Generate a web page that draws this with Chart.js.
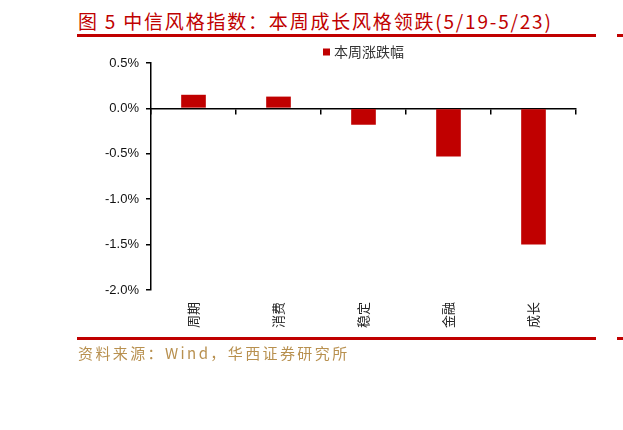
<!DOCTYPE html>
<html>
<head>
<meta charset="utf-8">
<script src="https://cdn.jsdelivr.net/npm/chart.js@4"></script>
<style>
  html, body { margin: 0; padding: 0; background: #fff; }
  body { width: 623px; height: 430px; position: relative; overflow: hidden; }
  .title { position: absolute; left: 78px; top: 7px; font: 19px "Noto Sans CJK SC"; color: #c00000; letter-spacing: 1.8px; white-space: nowrap; }
  .rule { position: absolute; height: 3px; background: #c00000; }
  .source { position: absolute; left: 78px; top: 342px; font: 15px "Noto Sans CJK SC"; color: #b8904f; letter-spacing: 2.4px; white-space: nowrap; }
  #wrap { position: absolute; left: 0; top: 40px; width: 623px; height: 300px; }
</style>
</head>
<body>
<div class="title">图 5 中信风格指数：本周成长风格领跌(5/19-5/23)</div>
<div class="rule" style="left:77px; top:34px; width:519px;"></div>
<div class="rule" style="left:617px; top:34px; width:6px;"></div>
<div id="wrap"><canvas id="chart"></canvas></div>
<div class="rule" style="left:77px; top:337px; width:519px;"></div>
<div class="rule" style="left:617px; top:337px; width:6px;"></div>
<div class="source">资料来源：Wind，华西证券研究所</div>
<script>
const categories = ['周期', '消费', '稳定', '金融', '成长'];
const weeklyChange = [0.15, 0.13, -0.18, -0.53, -1.50];
const seriesName = '本周涨跌幅';
const yTicks = { min: -2.0, max: 0.5, step: 0.5 };

const barColor = '#c00000';

// small legend centred over the plot area, drawn from the dataset itself
const seriesLegend = {
    id: 'seriesLegend',
    afterDraw(chart){
        const ctx = chart.ctx;
        const ds = chart.data.datasets[0];
        const area = chart.chartArea;
        ctx.save();
        ctx.font = '14px "Noto Sans CJK SC"';
        const tw = ctx.measureText(ds.label).width;
        const total = 7 + 4 + tw;
        const x = (area.left + area.right) / 2 - total / 2;
        const y = 12;
        ctx.fillStyle = ds.backgroundColor;
        ctx.fillRect(x, y - 3.5, 7, 7);
        ctx.fillStyle = '#333';
        ctx.textBaseline = 'middle';
        ctx.fillText(ds.label, x + 11, y);
        ctx.restore();
    }
};

new Chart(document.getElementById('chart'), {
    type: 'bar',
    data: {
        labels: categories,
        datasets: [{
            label: seriesName,
            data: weeklyChange,
            backgroundColor: barColor,
            barPercentage: 0.29,
            categoryPercentage: 1.0
        }]
    },
    options: {
        responsive: true,
        maintainAspectRatio: false,
        animation: false,
        layout: {
            padding: { left: 71, right: 47, top: 23, bottom: 5 }
        },
        plugins: {
            tooltip: { enabled: false },
            legend: { display: false }
        },
        scales: {
            x: {
                grid: { display: false },
                border: { display: false },
                ticks: {
                    minRotation: 90,
                    maxRotation: 90,
                    padding: 4,
                    color: '#222',
                    font: { family: 'Noto Sans CJK SC', size: 13 }
                },
                afterFit: function(scale){ scale.height = 45; }
            },
            x2: {
                type: 'category',
                labels: categories,
                position: { y: 0 },
                offset: true,
                grid: {
                    offset: true,
                    drawOnChartArea: false,
                    drawTicks: true,
                    tickLength: 5,
                    color: '#000',
                    lineWidth: 1.5
                },
                border: { display: true, color: '#000', width: 1.5 },
                ticks: { display: false }
            },
            y: {
                min: yTicks.min,
                max: yTicks.max,
                grid: {
                    drawOnChartArea: false,
                    tickLength: 5,
                    color: '#000',
                    lineWidth: 1.5
                },
                border: { color: '#000', width: 1.5 },
                ticks: {
                    stepSize: yTicks.step,
                    padding: 7,
                    color: '#111',
                    font: { family: 'Liberation Sans', size: 13 },
                    callback: function(value){ return value.toFixed(1) + '%'; }
                },
                afterFit: function(scale){ scale.width = 80; }
            }
        }
    },
    plugins: [seriesLegend]
});
</script>
</body>
</html>
